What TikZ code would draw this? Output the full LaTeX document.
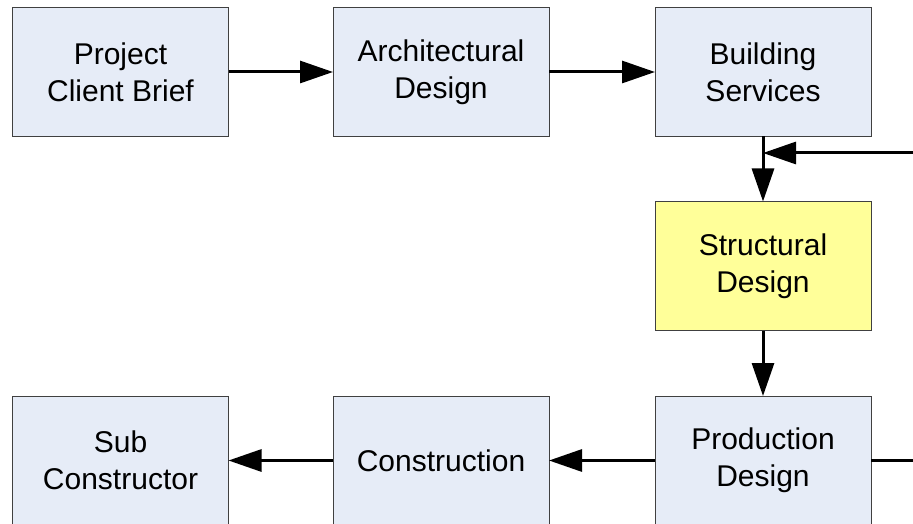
\documentclass[tikz,border=0pt]{standalone}
\usepackage{fontspec}
\setmainfont{Liberation Sans}
\usetikzlibrary{arrows.meta}
\definecolor{boxblue}{RGB}{230,236,247}
\definecolor{boxyellow}{RGB}{255,255,153}
\definecolor{boxline}{RGB}{64,64,64}
\tikzset{
  stagebox/.style={draw=boxline, line width=0.9pt, fill=boxblue, rectangle,
    minimum width=216pt, minimum height=129pt, inner sep=0pt, outer sep=0pt,
    align=center, font=\fontsize{30}{37}\selectfont},
  flow/.style={line width=3pt, -{Triangle[length=33pt,width=22pt]}},
  plainline/.style={line width=3pt}
}
\begin{document}
\begin{tikzpicture}[x=1pt,y=-1pt]
\clip (0,0) rectangle (913,524);
\node[stagebox] (pcb) at (120.5,72) {Project\\Client Brief};
\node[stagebox] (ad) at (441,72) {Architectural\\Design};
\node[stagebox] (bs) at (763,72) {Building\\Services};
\node[stagebox, fill=boxyellow] (sd) at (763,266) {Structural\\Design};
\node[stagebox] (pd) at (763,460.5) {Production\\Design};
\node[stagebox] (con) at (441,460.5) {Construction};
\node[stagebox] (sub) at (120.5,460.5) {Sub\\Constructor};
\coordinate (fbin) at (915,153);
\coordinate (fbout) at (915,460.5);
\coordinate (join) at (763,153);
\draw[flow] (pcb) -- (ad);
\draw[flow] (ad) -- (bs);
\draw[flow] (bs) -- (sd);
\draw[flow] (fbin) -- (join);
\draw[flow] (sd) -- (pd);
\draw[flow] (pd) -- (con);
\draw[flow] (con) -- (sub);
\draw[plainline] (pd) -- (fbout);
\end{tikzpicture}
\end{document}
